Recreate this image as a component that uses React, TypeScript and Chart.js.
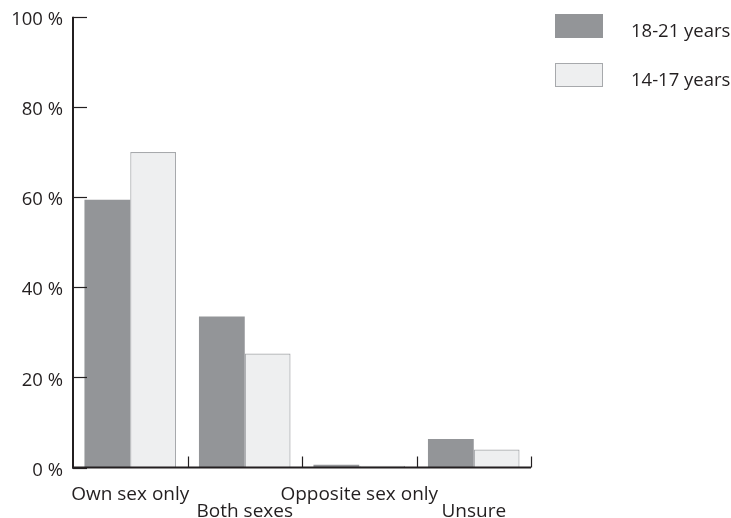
import React, { useEffect, useRef } from "react";
import { Chart, registerables } from "chart.js";

Chart.register(...registerables);

const categories: string[][] = [["Own sex only"], ["", "Both sexes"], ["Opposite sex only"], ["", "Unsure"]];
const seriesNames = ["18-21 years", "14-17 years"];
const values1821 = [59.4, 33.5, 0.6, 6.3];
const values1417 = [70.0, 25.3, 0.4, 4.0];
const yTicks = [0, 20, 40, 60, 80, 100];

const INK = "#231f20";
const FONT = "'Open Sans', sans-serif";

const axesPlugin = {
  id: "customAxes",
  afterDatasetsDraw(chart: any) {
    const ctx = chart.ctx;
    const x = chart.scales.x;
    const y = chart.scales.y;
    const left = chart.chartArea.left;
    const y0 = y.getPixelForValue(0);
    const yTop = y.getPixelForValue(100);
    ctx.save();
    ctx.strokeStyle = INK;
    ctx.lineWidth = 2;
    ctx.beginPath();
    ctx.moveTo(left, yTop);
    ctx.lineTo(left, y0 + 1);
    ctx.stroke();
    ctx.lineWidth = 1.2;
    yTicks.forEach((v) => {
      const py = Math.round(y.getPixelForValue(v)) + 0.5;
      ctx.beginPath();
      ctx.moveTo(left, py);
      ctx.lineTo(left + 14, py);
      ctx.stroke();
    });
    const half = (x.getPixelForValue(1) - x.getPixelForValue(0)) / 2;
    const right = x.getPixelForValue(categories.length - 1) + half;
    ctx.lineWidth = 2;
    ctx.beginPath();
    ctx.moveTo(left - 1, y0);
    ctx.lineTo(right, y0);
    ctx.stroke();
    ctx.lineWidth = 1.2;
    for (let i = 0; i < categories.length; i++) {
      const px = Math.round(x.getPixelForValue(i) + half) + 0.5;
      ctx.beginPath();
      ctx.moveTo(px, y0);
      ctx.lineTo(px, y0 - 11);
      ctx.stroke();
    }
    ctx.restore();
  },
};

const legendPlugin = {
  id: "customLegend",
  afterDraw(chart: any) {
    const ctx = chart.ctx;
    ctx.save();
    ctx.font = `18.5px ${FONT}`;
    ctx.textBaseline = "middle";
    ctx.textAlign = "left";
    const boxX = 555;
    const boxTops = [14, 63];
    chart.data.datasets.forEach((ds: any, i: number) => {
      const top = boxTops[i];
      ctx.fillStyle = ds.backgroundColor;
      ctx.fillRect(boxX, top, 48, 24);
      if (ds.borderWidth) {
        ctx.strokeStyle = ds.borderColor;
        ctx.lineWidth = 1;
        ctx.strokeRect(boxX + 0.5, top + 0.5, 47, 23);
      }
      ctx.fillStyle = INK;
      ctx.fillText(ds.label, 631, top + 18);
    });
    ctx.restore();
  },
};

export default function App() {
  const ref = useRef<HTMLCanvasElement | null>(null);
  useEffect(() => {
    if (!ref.current) return;
    const chart = new Chart(ref.current, {
      type: "bar",
      data: {
        labels: categories,
        datasets: [
          {
            label: seriesNames[0],
            data: values1821,
            backgroundColor: "#939598",
            borderColor: "#8a8b8e",
            borderWidth: 0,
            categoryPercentage: 0.8,
            barPercentage: 1.0,
          },
          {
            label: seriesNames[1],
            data: values1417,
            backgroundColor: "#eeeff0",
            borderColor: "#a7a9ac",
            borderWidth: 1.2,
            categoryPercentage: 0.8,
            barPercentage: 1.0,
          },
        ],
      },
      options: {
        animation: false,
        responsive: true,
        maintainAspectRatio: false,
        layout: { padding: { left: 0, right: 200, top: 16.7, bottom: 0 } },
        plugins: {
          legend: { display: false },
          tooltip: { enabled: false },
        },
        scales: {
          x: {
            grid: { display: false, drawTicks: false },
            border: { display: false },
            ticks: {
              color: INK,
              font: { family: FONT, size: 19, lineHeight: 0.88 },
              padding: 19,
              maxRotation: 0,
              autoSkip: false,
            },
            afterFit: (scale: any) => {
              scale.height = 50.5;
            },
          },
          y: {
            min: 0,
            max: 100,
            grid: { display: false, drawTicks: false },
            border: { display: false },
            ticks: {
              stepSize: 20,
              color: INK,
              font: { family: FONT, size: 18.5, lineHeight: 0.6 },
              padding: 10,
              labelOffset: 3,
              callback: (v: any) => `${v} %`,
            },
            afterFit: (scale: any) => {
              scale.width = 73;
            },
          },
        },
      },
      plugins: [axesPlugin, legendPlugin],
    });
    return () => chart.destroy();
  }, []);
  return (
    <div style={{ position: "fixed", left: 0, top: 0, width: 731, height: 518, background: "#fff" }}>
      <canvas ref={ref} />
    </div>
  );
}
